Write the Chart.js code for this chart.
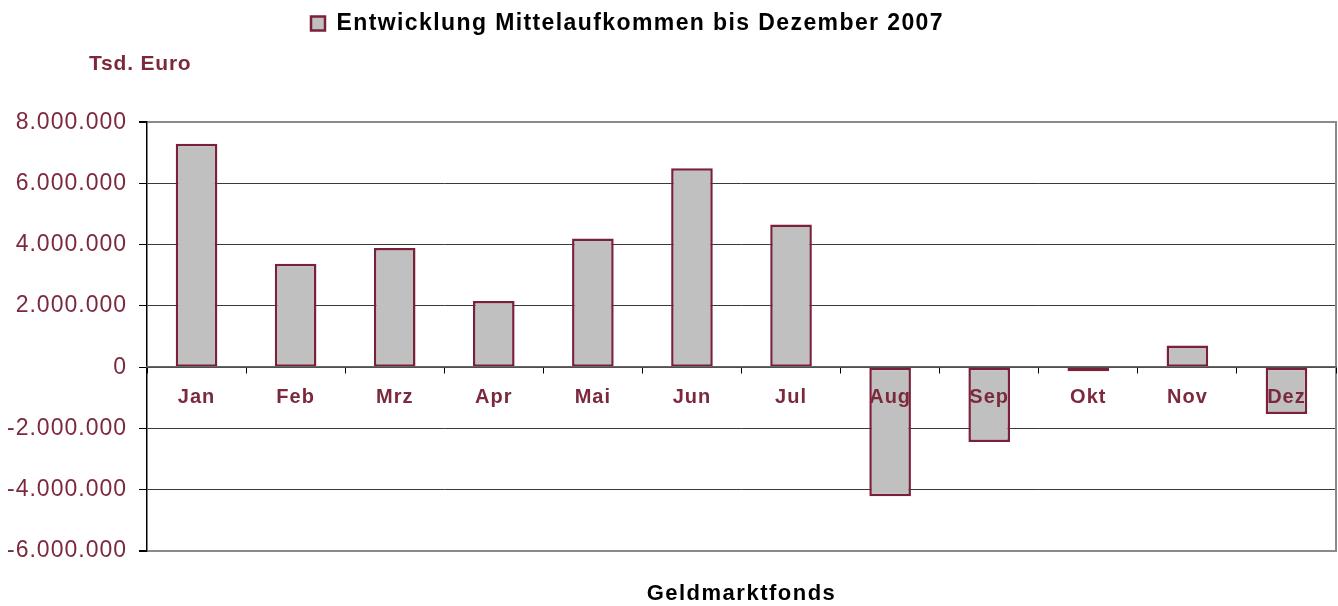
<!DOCTYPE html>
<html>
<head>
<meta charset="utf-8">
<script src="https://cdn.jsdelivr.net/npm/chart.js@4/dist/chart.umd.min.js"></script>
<style>
  html, body { margin: 0; padding: 0; background: #fff; }
  #c { display: block; }
</style>
</head>
<body>
<canvas id="c" width="1338" height="606"></canvas>
<script>
// ---- data ----
const categories = ['Jan', 'Feb', 'Mrz', 'Apr', 'Mai', 'Jun', 'Jul', 'Aug', 'Sep', 'Okt', 'Nov', 'Dez'];
const seriesName = 'Entwicklung Mittelaufkommen bis Dezember 2007';
const mittelaufkommen = [7300000, 3380000, 3890000, 2160000, 4200000, 6500000, 4660000, -4210000, -2440000, -130000, 710000, -1530000];
const yMin = -6000000;
const yMax = 8000000;
const yStep = 2000000;
const yUnitLabel = 'Tsd. Euro';
const xAxisTitle = 'Geldmarktfonds';

// ---- styles ----
const MAROON = '#7B2A3E';
const BAR_BORDER = '#7A2038';
const FONT = "'Liberation Sans', Arial, sans-serif";

function fmtDE(v) {
  const s = String(Math.abs(Math.round(v))).replace(/\B(?=(\d{3})+(?!\d))/g, '.');
  return (v < 0 ? '-' : '') + s;
}

const layoutTweaks = {
  id: 'layoutTweaks',
  afterLayout(chart) {
    const lg = chart.legend;
    if (lg) { const d = 301 - lg.left; lg.left += d; lg.right += d; }
    const t = chart.titleBlock;
    if (t) { const d = 89 - t.left; t.left += d; t.right += d; }
  },
  beforeDraw(chart) {
    const wrap = (obj, fn, sp) => {
      if (!obj || obj['__w_' + fn]) return;
      const orig = obj[fn];
      obj[fn] = function (...args) {
        const c = this.ctx; c.save(); c.letterSpacing = sp;
        const r = orig.apply(this, args); c.restore(); return r;
      };
      obj['__w_' + fn] = true;
    };
    wrap(chart.legend, 'draw', '1.4px');
    wrap(chart.titleBlock, 'draw', '0.8px');
    wrap(chart.scales.y, 'drawLabels', '1px');
    wrap(chart.scales.x, 'drawLabels', '1px');
    wrap(chart.scales.x2, 'drawTitle', '1.5px');
  }
};

new Chart(document.getElementById('c'), {
  type: 'bar',
  data: {
    labels: categories,
    datasets: [{
      label: seriesName,
      data: mittelaufkommen,
      backgroundColor: '#C0C0C0',
      borderColor: BAR_BORDER,
      borderWidth: 2.5,
      borderSkipped: false,
      barPercentage: 0.42,
      categoryPercentage: 1.0,
      xAxisID: 'x',
      yAxisID: 'y'
    }]
  },
  options: {
    responsive: false,
    animation: false,
    devicePixelRatio: 1,
    layout: { padding: { top: 2, right: 2, bottom: 0, left: 0 } },
    plugins: {
      tooltip: { enabled: false },
      legend: {
        display: true,
        position: 'top',
        align: 'start',
        labels: {
          boxWidth: 14,
          boxHeight: 14,
          padding: 10,
          color: '#000',
          font: { family: FONT, size: 23, weight: 'bold' }
        }
      },
      title: {
        display: true,
        text: yUnitLabel,
        position: 'top',
        align: 'start',
        weight: 500,
        color: MAROON,
        font: { family: FONT, size: 21, weight: 'bold' },
        padding: { top: 7, bottom: 45 }
      }
    },
    scales: {
      x: {
        type: 'category',
        position: { y: 0 },
        offset: true,
        grid: { display: true, offset: true, drawOnChartArea: false, drawTicks: true, tickLength: 6, color: '#000', lineWidth: 1, z: 1 },
        border: { display: true, color: '#666', width: 1.5, z: 1 },
        ticks: { z: 2, color: MAROON, font: { family: FONT, size: 20, weight: 'bold' }, padding: 12, maxRotation: 0, autoSkip: false }
      },
      x2: {
        type: 'category',
        position: 'bottom',
        grid: { display: false, drawTicks: false },
        border: { display: false },
        ticks: { display: false },
        title: {
          display: true,
          text: xAxisTitle,
          color: '#000',
          font: { family: FONT, size: 22, weight: 'bold' },
          padding: { top: 30, bottom: -1.4 }
        }
      },
      y: {
        type: 'linear',
        position: 'left',
        min: yMin,
        max: yMax,
        afterFit(s) { s.width = 147; },
        ticks: {
          stepSize: yStep,
          color: MAROON,
          font: { family: FONT, size: 23 },
          padding: 12,
          callback: (v) => fmtDE(v)
        },
        grid: {
          color: (c) => (c.tick && (c.tick.value === yMax || c.tick.value === yMin)) ? '#8a8a8a' : '#3a3a3a',
          lineWidth: (c) => (c.tick && (c.tick.value === yMax || c.tick.value === yMin)) ? 2 : 1,
          tickColor: '#000',
          tickLength: 8
        },
        border: { display: true, color: '#000', width: 1.5 }
      },
      y2: {
        type: 'linear',
        position: 'right',
        afterFit(s) { s.width = 0; },
        grid: { display: false, drawTicks: false },
        ticks: { display: false },
        border: { display: true, color: '#8a8a8a', width: 2 }
      }
    }
  },
  plugins: [layoutTweaks]
});
</script>
</body>
</html>
